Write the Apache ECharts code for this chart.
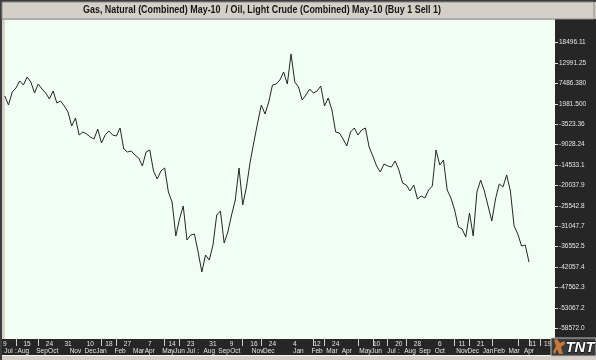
<!DOCTYPE html>
<html><head><meta charset="utf-8">
<script src="https://cdn.jsdelivr.net/npm/echarts@6/dist/echarts.min.js"></script>
<style>html,body{margin:0;padding:0;background:#d4d0c8}#c{width:596px;height:360px}</style>
</head><body><div id="c"></div>
<script>
const titleText = 'Gas, Natural (Combined) May-10  / Oil, Light Crude (Combined) May-10 (Buy 1 Sell 1)';

const weeks = [
'2007-07-06','2007-07-13','2007-07-20','2007-07-27','2007-08-03','2007-08-10','2007-08-17','2007-08-24','2007-08-31',
'2007-09-07','2007-09-14','2007-09-21','2007-09-28','2007-10-05','2007-10-12','2007-10-19','2007-10-26',
'2007-11-02','2007-11-09','2007-11-16','2007-11-23','2007-11-30','2007-12-07','2007-12-14','2007-12-21','2007-12-28',
'2008-01-04','2008-01-11','2008-01-18','2008-01-25','2008-02-01','2008-02-08','2008-02-15','2008-02-22','2008-02-29',
'2008-03-07','2008-03-14','2008-03-21','2008-03-28','2008-04-04','2008-04-11','2008-04-18','2008-04-25',
'2008-05-02','2008-05-09','2008-05-16','2008-05-23','2008-05-30','2008-06-06','2008-06-13','2008-06-20','2008-06-27',
'2008-07-04','2008-07-11','2008-07-18','2008-07-25','2008-08-01','2008-08-08','2008-08-15','2008-08-22','2008-08-29',
'2008-09-05','2008-09-12','2008-09-19','2008-09-26','2008-10-03','2008-10-10','2008-10-17','2008-10-24','2008-10-31',
'2008-11-07','2008-11-14','2008-11-21','2008-11-28','2008-12-05','2008-12-12','2008-12-19','2008-12-26',
'2009-01-02','2009-01-09','2009-01-16','2009-01-23','2009-01-30','2009-02-06','2009-02-13','2009-02-20','2009-02-27',
'2009-03-06','2009-03-13','2009-03-20','2009-03-27','2009-04-03','2009-04-10','2009-04-17','2009-04-24',
'2009-05-01','2009-05-08','2009-05-15','2009-05-22','2009-05-29','2009-06-05','2009-06-12','2009-06-19','2009-06-26',
'2009-07-03','2009-07-10','2009-07-17','2009-07-24','2009-07-31','2009-08-07','2009-08-14','2009-08-21','2009-08-28',
'2009-09-04','2009-09-11','2009-09-18','2009-09-25','2009-10-02','2009-10-09','2009-10-16','2009-10-23','2009-10-30',
'2009-11-06','2009-11-13','2009-11-20','2009-11-27','2009-12-04','2009-12-11','2009-12-18','2009-12-25',
'2010-01-01','2010-01-08','2010-01-15','2010-01-22','2010-01-29','2010-02-05','2010-02-12','2010-02-19','2010-02-26',
'2010-03-05','2010-03-12','2010-03-19','2010-03-26','2010-04-02','2010-04-09','2010-04-16','2010-04-23','2010-04-30','2010-05-07'
];

const spread = [
4113,1685,5193,6272,8161,7082,9241,7891,4923,7352,6002,4923,3304,5463,2224,2764,
1415,-204,-3982,-1823,-6411,-5601,-6141,-6950,-7490,-4792,-8570,-6411,-5331,-6411,-6681,-4522,
-10189,-10998,-10728,-11808,-12617,-14776,-10998,-10459,-16125,-18284,-16125,-15316,-21792,-24491,-33666,-29078,
-25570,-34745,-33396,-33126,-37983,-43380,-38793,-40142,-36094,-27999,-26919,-35555,-32586,-27999,-23951,-15316,
-25300,-20443,-13697,-8300,-3173,1685,-744,2494,7082,7352,8431,10590,7352,15447,7891,6542,
3034,4383,6002,4923,5463,6812,1415,3574,335,-5601,-5871,-7490,-9379,-5601,-4522,-6411,
-5062,-4522,-9649,-12078,-14776,-16395,-14236,-14776,-15046,-13427,-15856,-19364,-19903,-21522,-19903,-23681,
-22872,-23411,-21253,-20173,-10459,-14506,-13157,-21253,-23411,-26650,-31237,-31777,-33935,-27459,-33666,-21792,
-18554,-21522,-25570,-29618,-23681,-19633,-20443,-17205,-21522,-30967,-33126,-36364,-36094,-40682
];

const yTickLabels = ['18496.11','12991.25','7486.380','1981.500','-3523.36','-9028.24','-14533.1','-20037.9',
  '-25542.8','-31047.7','-36552.5','-42057.4','-47562.3','-53067.2','-58572.0'];
const yMin = -61460, yMax = 24622;

const dayLabelDates = ['2007-07-06','2007-08-17','2007-09-28','2007-11-02','2007-12-14','2008-01-18','2008-02-22',
  '2008-04-04','2008-05-16','2008-06-20','2008-08-01','2008-09-05','2008-10-17','2008-11-21','2009-01-02',
  '2009-02-13','2009-03-20','2009-06-05','2009-07-17','2009-08-21','2009-10-02','2009-11-13','2009-12-18',
  '2010-03-26','2010-04-23'];
const dayLabelTexts = ['9','15','24','31','10','18','27','7','14','23','31','9','16','24','4','12','24','10','20','28','6','11','21','11','19'];

const monthLabelDates = ['2007-07-13','2007-07-27','2007-08-10','2007-09-14','2007-10-05','2007-11-16','2007-12-14',
  '2008-01-04','2008-02-08','2008-03-14','2008-04-04','2008-05-09','2008-05-30','2008-06-20','2008-07-04','2008-07-25',
  '2008-08-22','2008-09-12','2008-10-24','2008-11-14','2009-01-09','2009-02-13','2009-03-13','2009-04-10','2009-05-15',
  '2009-06-05','2009-07-03','2009-07-17','2009-08-07','2009-09-04','2009-10-02','2009-11-13','2009-12-04',
  '2010-01-01','2010-01-22','2010-02-19','2010-03-19'];
const monthLabelTexts = ['Jul',':','Aug','Sep','Oct','Nov','Dec','Jan','Feb','Mar','Apr','May','Jun','Jul',':','Aug',
  'Sep','Oct','Nov','Dec','Jan','Feb','Mar','Apr','May','Jun','Jul',':','Aug','Sep','Oct','Nov','Dec','Jan','Feb','Mar','Apr'];

const pipeTickDates = ['2007-07-27','2007-09-07','2008-01-04','2008-02-01','2008-05-02','2008-05-30','2008-09-26',
  '2008-10-31','2009-02-06','2009-02-27','2009-05-01','2009-05-29','2009-06-26','2009-07-31','2009-10-30',
  '2009-11-27','2010-01-08','2010-02-26','2010-03-19','2010-04-09'];

const dayMap = new Map(dayLabelDates.map((d, i) => [d, dayLabelTexts[i]]));
const monthMap = new Map(monthLabelDates.map((d, i) => [d, monthLabelTexts[i]]));
const pipeSet = new Set(pipeTickDates);
const yValues = yTickLabels.map(Number);
const yMap = new Map(yValues.map((v, i) => [v, yTickLabels[i]]));

function measure(text, font) {
  const c = document.createElement('canvas').getContext('2d');
  c.font = font; return c.measureText(text).width;
}
const titleFont = 'bold 10px "Liberation Sans", Arial, sans-serif';
const titleScale = 358 / measure(titleText, titleFont);

const axisFont = '"Liberation Sans", Arial, sans-serif';
const labelColor = '#e4e4e4';
const panel = '#262626';

const chart = echarts.init(document.getElementById('c'), null, {renderer: 'canvas'});
chart.setOption({
  animation: false,
  backgroundColor: '#d4d0c8',
  grid: {left: 2, right: 41, top: 20, bottom: 21, containLabel: false, show: true, backgroundColor: '#f0fff2', borderWidth: 0},
  xAxis: [{
    type: 'category', data: weeks, boundaryGap: false, position: 'bottom',
    axisLine: {show: false, onZero: false},
    axisTick: {show: true, interval: (i, v) => pipeSet.has(weeks[i]), length: 7, lineStyle: {color: '#cfcfcf', width: 1}},
    axisLabel: {show: true, interval: (i, v) => dayMap.has(v), formatter: (v) => dayMap.get(v) || '',
      color: labelColor, fontSize: 6.5, fontFamily: axisFont, margin: 1.5, lineHeight: 7},
    splitLine: {show: false}
  }, {
    type: 'category', data: weeks, boundaryGap: false, position: 'bottom', offset: 0,
    axisLine: {show: false, onZero: false}, axisTick: {show: false},
    axisLabel: {show: true, interval: (i, v) => monthMap.has(v), formatter: (v) => monthMap.get(v) || '',
      color: labelColor, fontSize: 6.5, fontFamily: axisFont, margin: 8.5, lineHeight: 7},
    splitLine: {show: false}
  }],
  yAxis: {
    type: 'value', position: 'right', min: yMin, max: yMax,
    axisLine: {show: false},
    axisTick: {show: true, customValues: yValues, length: 3, inside: false, lineStyle: {color: '#e0e0e0'}},
    axisLabel: {show: true, customValues: yValues, formatter: (v) => yMap.get(v) || '',
      color: labelColor, fontSize: 6.5, fontFamily: axisFont, margin: 4},
    splitLine: {show: false}
  },
  graphic: [
    {type: 'rect', z: -10, shape: {x: 555, y: 19, width: 41, height: 336}, style: {fill: panel}},
    {type: 'rect', z: -10, shape: {x: 2, y: 339, width: 553, height: 16}, style: {fill: panel}},
    {type: 'rect', z: -9, shape: {x: 0, y: 355, width: 596, height: 1}, style: {fill: '#f4f4f4'}},
    {type: 'rect', z: -9, shape: {x: 0, y: 0, width: 2, height: 360}, style: {fill: '#3c3c3c'}},
    {type: 'rect', z: -9, shape: {x: 0, y: 0, width: 596, height: 2}, style: {fill: '#3c3c3c'}},
    {type: 'rect', z: -9, shape: {x: 2, y: 2, width: 592, height: 17}, style: {fill: '#d4d0c8', stroke: '#8a8a8a', lineWidth: 1}},
    {type: 'text', z: 10, x: 262, y: 10.5, scaleX: titleScale,
      style: {text: titleText, font: titleFont, fill: '#161616', align: 'center', verticalAlign: 'middle'}},
    {type: 'rect', z: 5, shape: {x: 551, y: 338, width: 45, height: 18}, style: {fill: '#3a3a3a', stroke: '#bdbdbd', lineWidth: 1}},
    {type: 'polygon', z: 6, shape: {points: [[554, 340], [557, 339], [560, 343], [564, 341], [565, 344], [561, 347], [563, 354], [559, 354], [557, 349], [555, 354], [553, 352], [556, 346]]},
      style: {fill: '#c8783c'}},
    {type: 'text', z: 7, x: 580, y: 347.5,
      style: {text: 'TNT', font: 'italic bold 15px "Liberation Sans", Arial, sans-serif', fill: '#ffffff', stroke: '#000', lineWidth: 1, align: 'center', verticalAlign: 'middle'}}
  ],
  series: [{
    type: 'line', data: spread, xAxisIndex: 0, showSymbol: false, symbol: 'none',
    lineStyle: {color: '#262626', width: 1}, silent: true
  }]
});
</script></body></html>
